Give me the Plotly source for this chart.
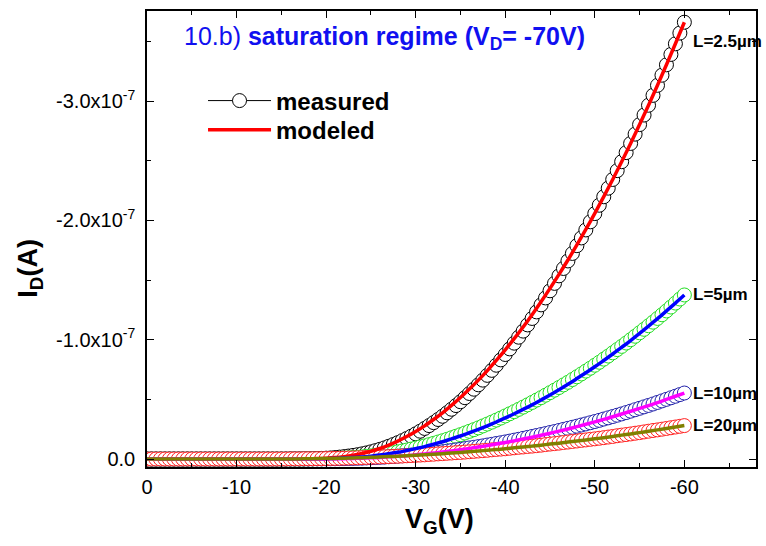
import plotly.graph_objects as go
import numpy as np

# ---------------- data (currents in units of 1e-7 A, magnitudes) ----------------
VG_MEAS = [0, 0.5, 1, 1.5, 2, 2.5, 3, 3.5, 4, 4.5, 5, 5.5, 6, 6.5, 7, 7.5, 8, 8.5, 9, 9.5,
           10, 10.5, 11, 11.5, 12, 12.5, 13, 13.5, 14, 14.5, 15, 15.5, 16, 16.5, 17, 17.5, 18, 18.5, 19, 19.5,
           20, 20.5, 21, 21.5, 22, 22.5, 23, 23.5, 24, 24.5, 25, 25.5, 26, 26.5, 27, 27.5, 28, 28.5, 29, 29.5,
           30, 30.5, 31, 31.5, 32, 32.5, 33, 33.5, 34, 34.5, 35, 35.5, 36, 36.5, 37, 37.5, 38, 38.5, 39, 39.5,
           40, 40.5, 41, 41.5, 42, 42.5, 43, 43.5, 44, 44.5, 45, 45.5, 46, 46.5, 47, 47.5, 48, 48.5, 49, 49.5,
           50, 50.5, 51, 51.5, 52, 52.5, 53, 53.5, 54, 54.5, 55, 55.5, 56, 56.5, 57, 57.5, 58, 58.5, 59, 59.5,
           60]

MEAS_L2_5 = [0, 0, 0, 0, 0, 0, 0, 0, 0, 0, 0, 0, 0, 0, 0, 0, 0, 0, 0, 0,
             0, 0, 0, 0, 0, 0, 0, 0, 0, 0, 0, 0, 0.001, 0.001, 0.001, 0.002, 0.002, 0.003, 0.004, 0.005,
             0.007, 0.009, 0.012, 0.016, 0.020, 0.025, 0.030, 0.036, 0.043, 0.051, 0.060, 0.070, 0.081, 0.093, 0.107, 0.121, 0.137, 0.154, 0.172, 0.191,
             0.211, 0.233, 0.256, 0.280, 0.305, 0.331, 0.358, 0.387, 0.417, 0.448, 0.480, 0.514, 0.549, 0.585, 0.622, 0.661, 0.701, 0.743, 0.786, 0.831,
             0.876, 0.923, 0.971, 1.021, 1.072, 1.124, 1.178, 1.233, 1.292, 1.350, 1.410, 1.472, 1.535, 1.597, 1.660, 1.723, 1.788, 1.853, 1.920, 1.988,
             2.057, 2.127, 2.198, 2.270, 2.343, 2.417, 2.492, 2.568, 2.645, 2.723, 2.803, 2.883, 2.965, 3.048, 3.132, 3.217, 3.304, 3.391, 3.480, 3.570,
             3.661]

MEAS_L5 = [0, 0, 0, 0, 0, 0, 0, 0, 0, 0, 0, 0, 0, 0, 0, 0, 0, 0, 0, 0,
           0, 0, 0, 0, 0, 0, 0, 0, 0, 0, 0, 0, 0, 0, 0, 0, 0.001, 0.001, 0.002, 0.002,
           0.003, 0.004, 0.005, 0.007, 0.008, 0.010, 0.013, 0.015, 0.018, 0.022, 0.026, 0.030, 0.035, 0.041, 0.047, 0.053, 0.060, 0.067, 0.075, 0.083,
           0.092, 0.101, 0.110, 0.120, 0.131, 0.142, 0.153, 0.165, 0.178, 0.191, 0.204, 0.218, 0.232, 0.246, 0.261, 0.277, 0.293, 0.309, 0.326, 0.343,
           0.361, 0.379, 0.397, 0.416, 0.435, 0.454, 0.474, 0.494, 0.514, 0.535, 0.556, 0.577, 0.599, 0.621, 0.643, 0.666, 0.689, 0.713, 0.737, 0.761,
           0.786, 0.811, 0.837, 0.863, 0.890, 0.917, 0.944, 0.972, 1.000, 1.029, 1.058, 1.087, 1.117, 1.147, 1.178, 1.209, 1.241, 1.274, 1.307, 1.341,
           1.375]

MEAS_L10 = [0, 0, 0, 0, 0, 0, 0, 0, 0, 0, 0, 0, 0, 0, 0, 0, 0, 0, 0, 0,
            0, 0, 0, 0, 0, 0, 0, 0, 0, 0, 0, 0, 0, 0, 0, 0, 0.000, 0.001, 0.001, 0.001,
            0.001, 0.002, 0.002, 0.003, 0.003, 0.004, 0.005, 0.006, 0.007, 0.009, 0.010, 0.012, 0.014, 0.016, 0.019, 0.021, 0.024, 0.027, 0.030, 0.033,
            0.036, 0.040, 0.044, 0.048, 0.052, 0.056, 0.061, 0.066, 0.071, 0.076, 0.081, 0.087, 0.093, 0.098, 0.104, 0.110, 0.117, 0.123, 0.130, 0.136,
            0.143, 0.150, 0.158, 0.165, 0.173, 0.181, 0.189, 0.197, 0.205, 0.213, 0.222, 0.230, 0.239, 0.248, 0.257, 0.266, 0.275, 0.285, 0.294, 0.304,
            0.314, 0.324, 0.335, 0.345, 0.356, 0.367, 0.378, 0.389, 0.401, 0.413, 0.425, 0.437, 0.449, 0.461, 0.474, 0.487, 0.500, 0.513, 0.526, 0.540,
            0.553]

MEAS_L20 = [0, 0, 0, 0, 0, 0, 0, 0, 0, 0, 0, 0, 0, 0, 0, 0, 0, 0, 0, 0,
            0, 0, 0, 0, 0, 0, 0, 0, 0, 0, 0, 0, 0.001, 0.001, 0.001, 0.002, 0.002, 0.002, 0.003, 0.003,
            0.004, 0.005, 0.005, 0.006, 0.007, 0.008, 0.009, 0.010, 0.011, 0.013, 0.014, 0.016, 0.017, 0.019, 0.020, 0.022, 0.023, 0.025, 0.027, 0.029,
            0.031, 0.033, 0.035, 0.038, 0.040, 0.043, 0.045, 0.048, 0.050, 0.053, 0.055, 0.058, 0.061, 0.064, 0.067, 0.070, 0.073, 0.077, 0.080, 0.083,
            0.086, 0.090, 0.094, 0.098, 0.101, 0.105, 0.108, 0.112, 0.116, 0.121, 0.125, 0.129, 0.133, 0.138, 0.142, 0.147, 0.151, 0.156, 0.160, 0.165,
            0.169, 0.174, 0.179, 0.184, 0.189, 0.195, 0.200, 0.205, 0.210, 0.216, 0.221, 0.227, 0.233, 0.239, 0.244, 0.250, 0.256, 0.262, 0.268, 0.274,
            0.280]

VG_MOD = [0, 1, 2, 3, 4, 5, 6, 7, 8, 9, 10, 11, 12, 13, 14, 15, 16, 17, 18, 19,
          20, 21, 22, 23, 24, 25, 26, 27, 28, 29, 30, 31, 32, 33, 34, 35, 36, 37, 38, 39,
          40, 41, 42, 43, 44, 45, 46, 47, 48, 49, 50, 51, 52, 53, 54, 55, 56, 57, 58, 59, 60]

MOD_L2_5 = [0, 0, 0, 0, 0, 0, 0, 0, 0, 0,
            0, 0, 0, 0, 0, 0.0002, 0.0005, 0.001, 0.002, 0.004,
            0.007, 0.012, 0.020, 0.031, 0.046, 0.065, 0.088, 0.117, 0.150, 0.188,
            0.231, 0.278, 0.331, 0.387, 0.449, 0.515, 0.586, 0.661, 0.741, 0.826,
            0.915, 1.009, 1.107, 1.210, 1.318, 1.430, 1.547, 1.668, 1.794, 1.924,
            2.059, 2.199, 2.343, 2.492, 2.645, 2.803, 2.965, 3.132, 3.304, 3.480,
            3.661]

MOD_L5 = [0, 0, 0, 0, 0, 0, 0, 0, 0, 0,
          0, 0, 0, 0, 0, 0, 0, 0, 0.001, 0.0015,
          0.003, 0.005, 0.008, 0.012, 0.017, 0.024, 0.033, 0.044, 0.056, 0.071,
          0.087, 0.104, 0.124, 0.145, 0.169, 0.193, 0.220, 0.248, 0.278, 0.310,
          0.344, 0.379, 0.416, 0.454, 0.495, 0.537, 0.581, 0.626, 0.674, 0.723,
          0.773, 0.826, 0.880, 0.936, 0.993, 1.053, 1.114, 1.176, 1.241, 1.307,
          1.375]

MOD_L10 = [0, 0, 0, 0, 0, 0, 0, 0, 0, 0,
           0, 0, 0, 0, 0, 0, 0, 0, 0.0003, 0.0006,
           0.001, 0.002, 0.003, 0.005, 0.007, 0.010, 0.013, 0.018, 0.023, 0.028,
           0.035, 0.042, 0.050, 0.058, 0.068, 0.078, 0.089, 0.100, 0.112, 0.125,
           0.138, 0.152, 0.167, 0.183, 0.199, 0.216, 0.234, 0.252, 0.271, 0.291,
           0.311, 0.332, 0.354, 0.377, 0.400, 0.424, 0.448, 0.473, 0.499, 0.526,
           0.553]

MOD_L20 = [0, 0, 0, 0, 0, 0, 0, 0, 0, 0,
           0, 0, 0, 0, 0, 0, 0.001, 0.001, 0.002, 0.003,
           0.004, 0.005, 0.007, 0.009, 0.011, 0.014, 0.017, 0.020, 0.023, 0.027,
           0.031, 0.035, 0.040, 0.045, 0.050, 0.055, 0.061, 0.067, 0.073, 0.080,
           0.086, 0.094, 0.101, 0.108, 0.116, 0.125, 0.133, 0.142, 0.151, 0.160,
           0.169, 0.179, 0.189, 0.200, 0.210, 0.221, 0.233, 0.244, 0.256, 0.268,
           0.280]

CURVE_LABELS = ["L=2.5µm", "L=5µm", "L=10µm", "L=20µm"]
LABEL_Y = [3.50, 1.38, 0.55, 0.28]          # label anchor heights (1e-7 A)

X_TICKS = [0, -10, -20, -30, -40, -50, -60]
X_TICKTEXT = ["0", "-10", "-20", "-30", "-40", "-50", "-60"]
Y_TICKS = [0, -1e-7, -2e-7, -3e-7]
Y_TICKTEXT = ["0.0", "-1.0x10<sup>-7</sup>", "-2.0x10<sup>-7</sup>", "-3.0x10<sup>-7</sup>"]

# ---------------- figure ----------------
for arr in (MEAS_L2_5, MEAS_L5, MEAS_L10, MEAS_L20):
    assert len(arr) == len(VG_MEAS), len(arr)
for arr in (MOD_L2_5, MOD_L5, MOD_L10, MOD_L20):
    assert len(arr) == len(VG_MOD), len(arr)

FONT = "Liberation Sans, Arial, sans-serif"
xm = -np.array(VG_MEAS, dtype=float)
xd = -np.array(VG_MOD, dtype=float)

def amps(v):
    return -1e-7 * np.array(v, dtype=float)

fig = go.Figure()

meas = [(MEAS_L2_5, "black"), (MEAS_L5, "#22DD22"), (MEAS_L10, "#2222AA"), (MEAS_L20, "#FF2020")]
for vals, col in meas:
    fig.add_trace(go.Scatter(x=xm, y=amps(vals), mode="markers", showlegend=False,
                             marker=dict(symbol="circle", size=14, color="white",
                                         line=dict(color=col, width=1))))

mods = [(MOD_L2_5, "#FF0000"), (MOD_L5, "#0000FF"), (MOD_L10, "#FF00FF"), (MOD_L20, "#808000")]
for vals, col in mods:
    fig.add_trace(go.Scatter(x=xd, y=amps(vals), mode="lines", showlegend=False,
                             line=dict(color=col, width=3.5, shape="spline")))

# legend entries
fig.add_trace(go.Scatter(x=[None], y=[None], mode="lines+markers", name="measured",
                         legend="legend",
                         line=dict(color="black", width=1),
                         marker=dict(symbol="circle", size=14, color="white",
                                     line=dict(color="black", width=1))))
fig.add_trace(go.Scatter(x=[None], y=[None], mode="lines", name="modeled",
                         legend="legend2",
                         line=dict(color="#FF0000", width=3.5)))

for lab, ly in zip(CURVE_LABELS, LABEL_Y):
    fig.add_annotation(x=-60, y=-ly * 1e-7, text="<b>%s</b>" % lab, showarrow=False,
                       xanchor="left", yanchor="middle", xshift=7,
                       font=dict(family=FONT, size=17, color="black"))

fig.add_annotation(xref="paper", yref="paper", x=0.058, y=0.94,
                   text="10.b) <b>saturation regime (V<sub>D</sub>= -70V)</b>",
                   showarrow=False, xanchor="left", yanchor="middle",
                   font=dict(family=FONT, size=25, color="#1010F0"))

fig.add_annotation(xref="paper", yref="paper", x=-0.192, y=0.435,
                   text="<b>I<sub>D</sub>(A)</b>", textangle=-90, showarrow=False,
                   xanchor="center", yanchor="middle",
                   font=dict(family=FONT, size=27, color="black"))
fig.add_annotation(xref="paper", yref="paper", x=0.48, y=-0.118,
                   text="<b>V<sub>G</sub>(V)</b>", showarrow=False,
                   xanchor="center", yanchor="middle",
                   font=dict(family=FONT, size=27, color="black"))

axis_common = dict(showline=True, linecolor="black", linewidth=1.5, mirror="ticks",
                   ticks="inside", ticklen=7, tickwidth=1.2, tickcolor="black",
                   showgrid=False, zeroline=False,
                   tickfont=dict(family=FONT, size=20, color="black"))

fig.update_xaxes(range=[0, -68], tickmode="array", tickvals=X_TICKS, ticktext=X_TICKTEXT,
                 minor=dict(tickmode="array", tickvals=[-5, -15, -25, -35, -45, -55, -65],
                            ticks="inside", ticklen=4, tickcolor="black", tickwidth=1.2),
                 ticklabelstandoff=1, **axis_common)
fig.update_yaxes(range=[0.067e-7, -3.755e-7], tickmode="array", tickvals=Y_TICKS, ticktext=Y_TICKTEXT,
                 minor=dict(tickmode="array", tickvals=[-0.5e-7, -1.5e-7, -2.5e-7, -3.5e-7],
                            ticks="inside", ticklen=4, tickcolor="black", tickwidth=1.2),
                 ticklabelstandoff=6, **axis_common)

legend_style = dict(xanchor="left", yanchor="top", bgcolor="rgba(0,0,0,0)", borderwidth=0,
                    font=dict(family=FONT, size=24, color="black", weight="bold"),
                    itemwidth=63)
fig.update_layout(width=766, height=546, margin=dict(l=147, r=8, t=11, b=79),
                  paper_bgcolor="white", plot_bgcolor="white",
                  showlegend=True,
                  legend=dict(x=0.092, y=0.852, **legend_style),
                  legend2=dict(x=0.092, y=0.788, **legend_style))

fig.write_html("out.html")
